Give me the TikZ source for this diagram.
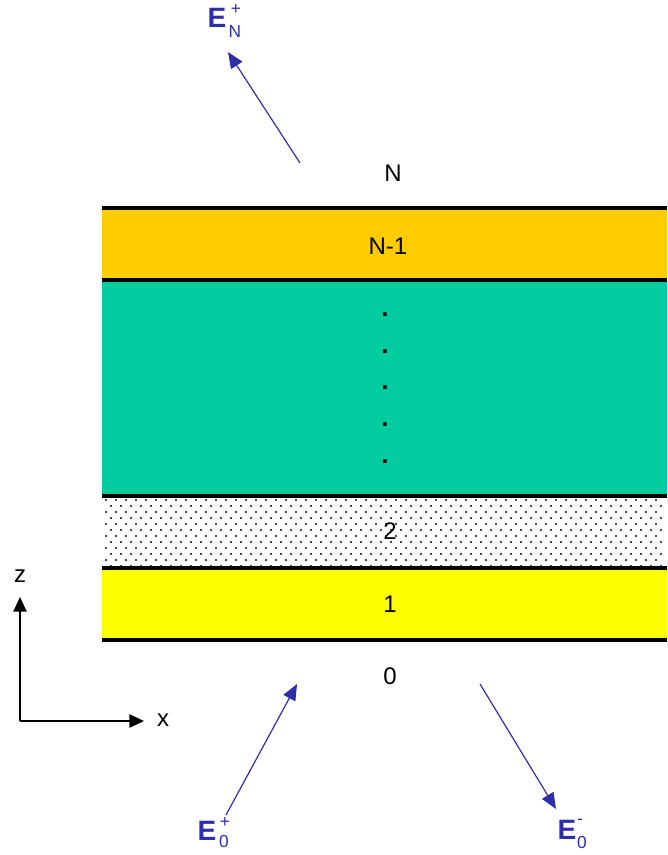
\documentclass[tikz,border=0pt]{standalone}
\usepackage{fontspec}
\setmainfont{Liberation Sans}
\usetikzlibrary{arrows.meta}
\definecolor{gold}{HTML}{FFCC00}
\definecolor{teal2}{HTML}{00CC9F}
\definecolor{yel}{HTML}{FFFF00}
\definecolor{eblue}{HTML}{2E2EA8}
\begin{document}
\begin{tikzpicture}[x=0.75pt,y=-0.75pt,
  layerline/.style={line width=2.6pt,black},
  lbl/.style={font=\fontsize{18}{20}\selectfont,inner sep=0pt},
  vdot/.style={font=\fontsize{19}{20}\selectfont\bfseries,inner sep=0pt,anchor=base},
  field/.style={eblue,line width=0.9pt,-{Triangle[length=12pt,width=10pt]}},
  ebig/.style={text=eblue,inner sep=0pt,font=\fontsize{21}{22}\selectfont\bfseries},
  esmall/.style={text=eblue,inner sep=0pt,font=\fontsize{13}{14}\selectfont},
  axis/.style={line width=1.3pt,-{Triangle[length=11pt,width=10pt]}}]
\useasboundingbox (0,0) rectangle (667,855);
% layers
\fill[gold] (102,208) rectangle (667,280);
\fill[teal2] (102,280) rectangle (667,496);
\fill[white] (102,496) rectangle (667,568);
\foreach \rowi in {0,...,11}{
  \pgfmathsetmacro{\rowy}{500+6*\rowi}
  \pgfmathsetmacro{\rowoff}{mod(\rowi,2)*5}
  \foreach \coli in {0,...,55}{
    \pgfmathsetmacro{\colx}{106+\rowoff+10*\coli}
    \fill[black!70] (\colx-0.8,\rowy-0.8) rectangle (\colx+0.8,\rowy+0.8);
  }
}
\fill[yel] (102,568) rectangle (667,640);
\foreach \yy in {208,280,496,568,640}
  \draw[layerline] (102,\yy) -- (667,\yy);
% labels
\node[lbl] (lN) at (393,173) {N};
\node[lbl] (lN1) at (388,246) {N-1};
\foreach \yy/\nm in {314/a,351/b,387/c,424/d,461/e}
  \node[vdot] (dot\nm) at (385,\yy+2) {.};
\node[lbl] (l2) at (390,531) {2};
\node[lbl] (l1) at (390,604) {1};
\node[lbl] (l0) at (390,676) {0};
% fields
\coordinate (aN0) at (300,163);
\coordinate (aN1) at (228,52);
\draw[field] (aN0) -- (aN1);
\node[ebig] (EN) at (217,18) {E};
\node[esmall] (ENs) at (236,10) {+};
\node[esmall] (ENi) at (235,32) {N};
\coordinate (a00) at (226,815);
\coordinate (a01) at (297,684);
\draw[field] (a00) -- (a01);
\node[ebig] (E0p) at (207,831) {E};
\node[esmall] (E0ps) at (225,822) {+};
\node[esmall] (E0pi) at (224,842) {0};
\coordinate (b00) at (480,684);
\coordinate (b01) at (556,809);
\draw[field] (b00) -- (b01);
\node[ebig] (E0m) at (567,830) {E};
\node[esmall] (E0ms) at (580,822) {-};
\node[esmall] (E0mi) at (582,843) {0};
% axes
\coordinate (O) at (20,721);
\coordinate (zt) at (20,597);
\coordinate (xt) at (144,721);
\draw[axis] (O) -- (zt);
\draw[axis] (O) -- (xt);
\node[lbl] (zl) at (20,576) {z};
\node[lbl] (xl) at (163,720) {x};
\end{tikzpicture}
\end{document}
